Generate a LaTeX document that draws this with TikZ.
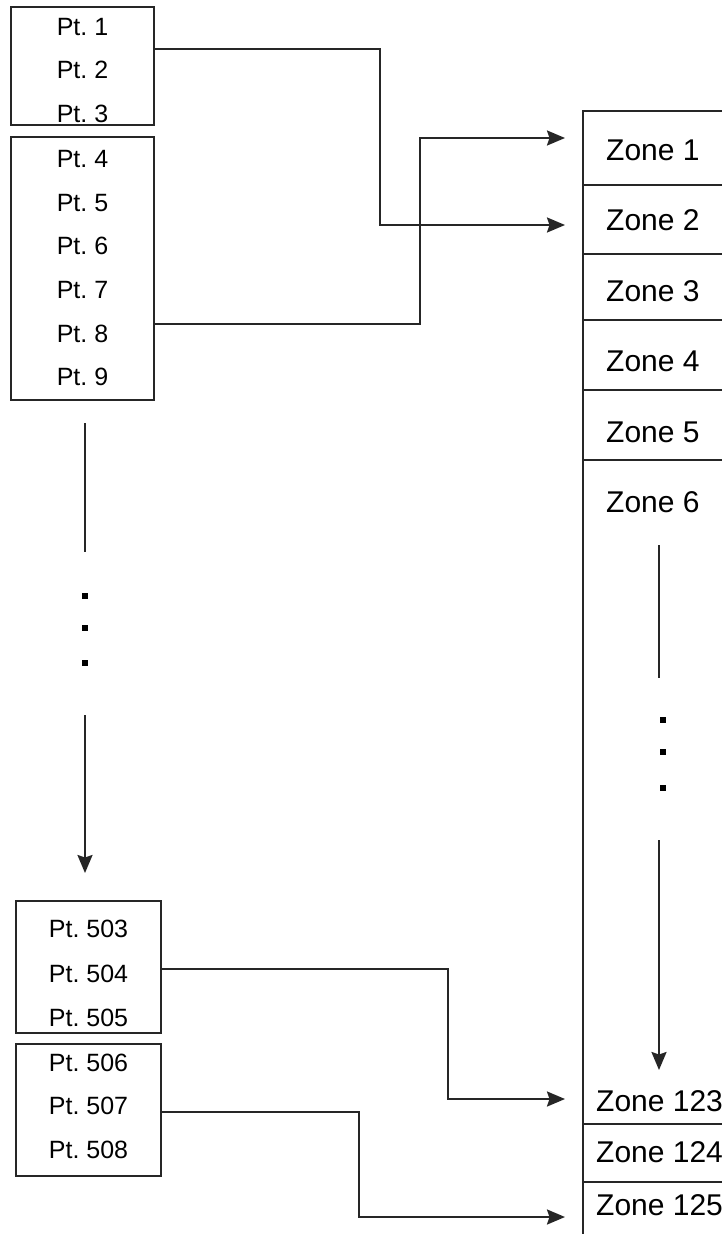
\documentclass[tikz,border=0pt]{standalone}
\usepackage{fontspec}
\setmainfont{Liberation Sans}
\usepackage{tikz}
\usetikzlibrary{arrows.meta}
\frenchspacing
\tikzset{
  grpbox/.style={
    rectangle, draw=black!85, line width=2.2pt,
    inner sep=0pt, outer sep=0pt, anchor=north west
  },
  ptlab/.style={
    anchor=base, inner sep=0pt, font=\fontsize{25}{30}\selectfont
  },
  zonecell/.style={
    rectangle, draw=black!85, line width=2.2pt, minimum width=240pt,
    inner sep=0pt, outer sep=0pt, anchor=north west
  },
  zonelab/.style={
    anchor=base west, inner sep=0pt, font=\fontsize{30}{36}\selectfont
  },
  vdot/.style={
    rectangle, fill=black, inner sep=0pt, minimum size=6.5pt
  },
  lin/.style={
    black!85, line width=2.2pt
  },
  arr/.style={
    -{Stealth[length=18pt,width=15pt,inset=2.5pt]},
    black!85, line width=2.2pt
  },
}
\begin{document}
\begin{tikzpicture}[x=1pt,y=-1pt]
  \path[use as bounding box, fill=white] (0,0) rectangle (722,1234);
  \clip (0,0) rectangle (722,1234);
  \node[grpbox, minimum width=143pt, minimum height=118pt] (grpA) at (11,7) {};
  \node[grpbox, minimum width=143pt, minimum height=263pt] (grpB) at (11,137) {};
  \node[grpbox, minimum width=145pt, minimum height=132pt] (grpC) at (16,901) {};
  \node[grpbox, minimum width=145pt, minimum height=132pt] (grpD) at (16,1044) {};
  \node[ptlab] (p1) at (82.5,35) {Pt. 1};
  \node[ptlab] (p2) at (82.5,78) {Pt. 2};
  \node[ptlab] (p3) at (82.5,122) {Pt. 3};
  \node[ptlab] (p4) at (82.5,167) {Pt. 4};
  \node[ptlab] (p5) at (82.5,211) {Pt. 5};
  \node[ptlab] (p6) at (82.5,254) {Pt. 6};
  \node[ptlab] (p7) at (82.5,298) {Pt. 7};
  \node[ptlab] (p8) at (82.5,342) {Pt. 8};
  \node[ptlab] (p9) at (82.5,385) {Pt. 9};
  \node[ptlab] (p503) at (88.5,937) {Pt. 503};
  \node[ptlab] (p504) at (88.5,982) {Pt. 504};
  \node[ptlab] (p505) at (88.5,1026) {Pt. 505};
  \node[ptlab] (p506) at (88.5,1071) {Pt. 506};
  \node[ptlab] (p507) at (88.5,1114) {Pt. 507};
  \node[ptlab] (p508) at (88.5,1158) {Pt. 508};

  \node[zonecell, minimum height=74pt] (zone1) at (583,111) {};
  \node[zonecell, minimum height=69pt] (zone2) at (583,185) {};
  \node[zonecell, minimum height=66pt] (zone3) at (583,254) {};
  \node[zonecell, minimum height=70pt] (zone4) at (583,320) {};
  \node[zonecell, minimum height=70pt] (zone5) at (583,390) {};
  \node[zonecell, minimum height=664pt] (zone6) at (583,460) {};
  \node[zonecell, minimum height=58pt] (zone124) at (583,1124) {};
  \node[zonecell, minimum height=90pt] (zone125) at (583,1182) {};
  \node[zonelab] (z1) at (606,160) {Zone 1};
  \node[zonelab] (z2) at (606,230) {Zone 2};
  \node[zonelab] (z3) at (606,301) {Zone 3};
  \node[zonelab] (z4) at (606,371) {Zone 4};
  \node[zonelab] (z5) at (606,442) {Zone 5};
  \node[zonelab] (z6) at (606,512) {Zone 6};
  \node[zonelab] (z123) at (596,1111) {Zone 123};
  \node[zonelab] (z124) at (596,1162) {Zone 124};
  \node[zonelab] (z125) at (596,1215) {Zone 125};

  \coordinate (in1) at (565,138);
  \coordinate (in2) at (565,225);
  \coordinate (in123) at (565,1099);
  \coordinate (in125) at (565,1217);
  \draw[arr] ([yshift=-42pt]grpA.north east) -- ++(226,0) |- (in2);
  \draw[arr] ([yshift=-187pt]grpB.north east) -- ++(266,0) |- (in1);
  \draw[arr] ([yshift=-68pt]grpC.north east) -- ++(287,0) |- (in123);
  \draw[arr] ([yshift=-68pt]grpD.north east) -- ++(198,0) |- (in125);

  \coordinate (ltop) at (85,423);
  \coordinate (lmid) at (85,552);
  \coordinate (lgo) at (85,715);
  \coordinate (lend) at (85,873);
  \draw[lin] (ltop) -- (lmid);
  \node[vdot] (ld1) at (85,596) {};
  \node[vdot] (ld2) at (85,628) {};
  \node[vdot] (ld3) at (85,663) {};
  \draw[arr] (lgo) -- (lend);

  \coordinate (rtop) at (659,545);
  \coordinate (rmid) at (659,678);
  \coordinate (rgo) at (659,840);
  \coordinate (rend) at (659,1070);
  \draw[lin] (rtop) -- (rmid);
  \node[vdot] (rd1) at (663,720) {};
  \node[vdot] (rd2) at (663,752) {};
  \node[vdot] (rd3) at (663,788) {};
  \draw[arr] (rgo) -- (rend);
\end{tikzpicture}
\end{document}
